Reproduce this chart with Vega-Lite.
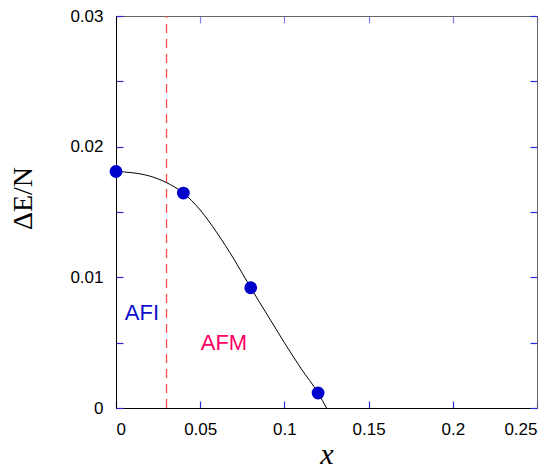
{
  "$schema": "https://vega.github.io/schema/vega-lite/v6.json",
  "autosize": "none",
  "width": 421,
  "height": 392,
  "padding": {"left": 116, "top": 16, "right": 19, "bottom": 62},
  "background": "white",
  "config": {
    "view": {"stroke": "#666666", "strokeWidth": 1},
    "axis": {"grid": false, "ticks": true, "domainColor": "#000000", "tickColor": "#2a2ad8", "tickWidth": 1.2, "tickSize": -7, "labelFont": "Liberation Sans", "labelFontSize": 17, "labelColor": "#000000", "titleFont": "Liberation Serif", "titleFontWeight": "normal", "titleColor": "#000000"}
  },
  "datasets": {
    "pts": [
      {"x": 0, "e": 0.0181},
      {"x": 0.04, "e": 0.01645},
      {"x": 0.08, "e": 0.0092},
      {"x": 0.12, "e": 0.00115}
    ],
    "curve": [
      {"x": 0, "e": 0.0181},
      {"x": 0.01, "e": 0.01800},
      {"x": 0.02, "e": 0.01775},
      {"x": 0.03, "e": 0.01725},
      {"x": 0.04, "e": 0.01645},
      {"x": 0.05, "e": 0.01515},
      {"x": 0.06, "e": 0.0134},
      {"x": 0.07, "e": 0.0114},
      {"x": 0.08, "e": 0.0092},
      {"x": 0.09, "e": 0.0071},
      {"x": 0.10, "e": 0.0050},
      {"x": 0.11, "e": 0.0030},
      {"x": 0.12, "e": 0.00115},
      {"x": 0.125, "e": 0.0}
    ],
    "vline": [{"x": 0.03, "e": 0}, {"x": 0.03, "e": 0.03}],
    "labels": [
      {"x": 0.0154, "e": 0.0073, "t": "AFI", "c": "blue"},
      {"x": 0.0641, "e": 0.0050, "t": "AFM", "c": "pink"}
    ]
  },
  "layer": [
    {
      "data": {"name": "vline"},
      "mark": {"type": "line", "color": "#ff4d4d", "strokeWidth": 1.3, "strokeDash": [9, 6]},
      "encoding": {
        "x": {"field": "x", "type": "quantitative", "scale": {"domain": [0, 0.25], "nice": false}, "axis": {"values": [0, 0.05, 0.1, 0.15, 0.2, 0.25], "format": "~g", "title": "x", "titleFontStyle": "italic", "titleFontSize": 30, "labelPadding": 20, "titleY": 55, "titleBaseline": "alphabetic"}},
        "y": {"field": "e", "type": "quantitative", "scale": {"domain": [0, 0.03], "nice": false}, "axis": {"values": [0, 0.005, 0.01, 0.015, 0.02, 0.025, 0.03], "labelExpr": "(round(datum.value*1000) % 10 == 0) ? format(datum.value, '~g') : ''", "title": "ΔE/N", "titleFontSize": 28, "labelPadding": 20, "titleX": -93, "titleY": 182, "titleAngle": -90, "titleAlign": "center", "titleBaseline": "middle"}}
      }
    },
    {
      "data": {"name": "curve"},
      "mark": {"type": "line", "color": "#000000", "strokeWidth": 1, "interpolate": "monotone"},
      "encoding": {
        "x": {"field": "x", "type": "quantitative", "axis": {"orient": "top", "values": [0, 0.05, 0.1, 0.15, 0.2, 0.25], "labels": false, "title": null, "domainColor": "#666666", "tickColor": "#8080ee"}},
        "y": {"field": "e", "type": "quantitative", "axis": {"orient": "right", "values": [0, 0.005, 0.01, 0.015, 0.02, 0.025, 0.03], "labels": false, "title": null, "domainColor": "#666666"}}
      }
    },
    {
      "data": {"name": "pts"},
      "mark": {"type": "point", "filled": true, "opacity": 1, "color": "#0000cc", "size": 165},
      "encoding": {
        "x": {"field": "x", "type": "quantitative", "axis": null},
        "y": {"field": "e", "type": "quantitative", "axis": null}
      }
    },
    {
      "data": {"name": "labels"},
      "mark": {"type": "text", "font": "Liberation Sans", "fontSize": 22, "align": "center", "baseline": "middle"},
      "encoding": {
        "x": {"field": "x", "type": "quantitative", "axis": null},
        "y": {"field": "e", "type": "quantitative", "axis": null},
        "text": {"field": "t"},
        "color": {"field": "c", "type": "nominal", "scale": {"domain": ["blue", "pink"], "range": ["#1010cc", "#ff0066"]}, "legend": null}
      }
    }
  ],
  "resolve": {"axis": {"x": "independent", "y": "independent"}}
}
